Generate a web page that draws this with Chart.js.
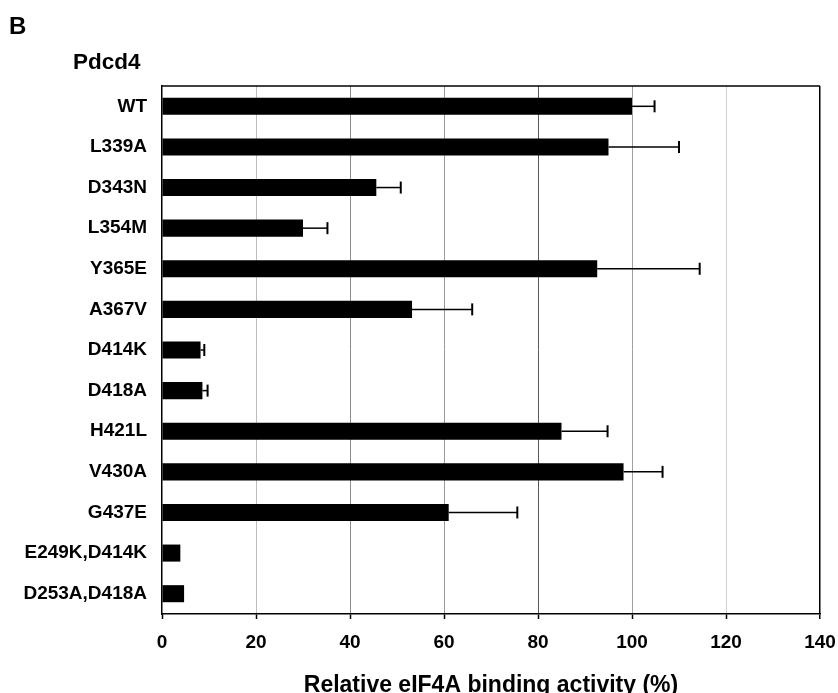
<!DOCTYPE html>
<html>
<head>
<meta charset="utf-8">
<script src="https://cdn.jsdelivr.net/npm/chart.js@4.4.1/dist/chart.umd.min.js"></script>
<style>
  body { margin: 0; background: #fff; }
  canvas { display: block; }
</style>
</head>
<body>
<canvas id="chart" width="838" height="693"></canvas>
<script>
// Pdcd4 mutants vs relative eIF4A binding
const mutants = ['WT', 'L339A', 'D343N', 'L354M', 'Y365E', 'A367V', 'D414K', 'D418A',
  'H421L', 'V430A', 'G437E', 'E249K,D414K', 'D253A,D418A'];
const binding = [100, 95, 45.6, 30, 92.6, 53.2, 8.2, 8.6, 85, 98.2, 61, 3.9, 4.7];
const errors = [4.8, 15, 5.2, 5.2, 21.8, 12.8, 0.8, 1.1, 9.8, 8.3, 14.6, 0, 0];

const FONT = "'Liberation Sans', Arial, sans-serif";
Chart.defaults.font.family = FONT;
Chart.defaults.color = '#000';

// grid line look per tick value
const gridStyle = {
  0: 'rgba(0,0,0,0)', 20: '#bdbdbd', 40: '#8c8c8c', 60: '#9a9a9a',
  80: '#5a5a5a', 100: '#a0a0a0', 120: '#cfcfcf', 140: '#000'
};

const extras = {
  id: 'extras',
  afterDatasetsDraw(chart) {
    const { ctx, chartArea, scales: { x, y } } = chart;
    ctx.save();
    ctx.strokeStyle = '#000';
    binding.forEach((v, i) => {
      if (!errors[i]) return;
      const yc = y.getPixelForValue(i);
      const x0 = x.getPixelForValue(v);
      const x1 = x.getPixelForValue(v + errors[i]);
      ctx.lineWidth = 1.5;
      ctx.beginPath();
      ctx.moveTo(x0, yc);
      ctx.lineTo(x1, yc);
      ctx.stroke();
      ctx.lineWidth = 2;
      ctx.beginPath();
      ctx.moveTo(x1, yc - 6);
      ctx.lineTo(x1, yc + 6);
      ctx.stroke();
    });
    // top frame line
    ctx.lineWidth = 1.5;
    ctx.beginPath();
    ctx.moveTo(chartArea.left, chartArea.top);
    ctx.lineTo(chartArea.right, chartArea.top);
    ctx.stroke();

    ctx.fillStyle = '#000';
    ctx.textBaseline = 'alphabetic';
    ctx.font = "bold 24px " + FONT;
    ctx.fillText('B', 9, 34);
    ctx.font = "bold 22.5px " + FONT;
    ctx.fillText('Pdcd4', 73, 69);
    ctx.restore();
  }
};

new Chart(document.getElementById('chart'), {
  type: 'bar',
  data: {
    labels: mutants,
    datasets: [{
      label: 'Relative eIF4A binding activity',
      data: binding,
      backgroundColor: '#000',
      borderWidth: 0,
      categoryPercentage: 1,
      barPercentage: 0.42
    }]
  },
  options: {
    indexAxis: 'y',
    responsive: false,
    animation: false,
    layout: { padding: { top: 86, right: 18, bottom: 0, left: 0 } },
    plugins: { legend: { display: false }, tooltip: { enabled: false } },
    scales: {
      x: {
        min: 0,
        max: 140,
        ticks: {
          stepSize: 20,
          padding: 12,
          font: { size: 19, weight: 'bold' }
        },
        grid: {
          color: c => gridStyle[c.tick ? c.tick.value : 0] || '#999',
          lineWidth: c => (c.tick && c.tick.value === 140 ? 1.5 : 1),
          tickColor: '#000',
          tickLength: 5,
          tickWidth: 1.5
        },
        border: { color: '#000', width: 1.5 },
        title: {
          display: true,
          text: 'Relative eIF4A binding activity (%)',
          font: { size: 23, weight: 'bold', lineHeight: 0.65 },
          padding: 0
        },
        afterFit: s => { s.height = 79; s.paddingLeft = 0; s.paddingRight = 0; }
      },
      y: {
        ticks: {
          padding: 15,
          font: { size: 19, weight: 'bold' }
        },
        grid: { drawOnChartArea: false, drawTicks: false },
        border: { color: '#000', width: 1.5 },
        afterFit: s => { s.width = 162; }
      }
    }
  },
  plugins: [extras]
});
</script>
</body>
</html>
